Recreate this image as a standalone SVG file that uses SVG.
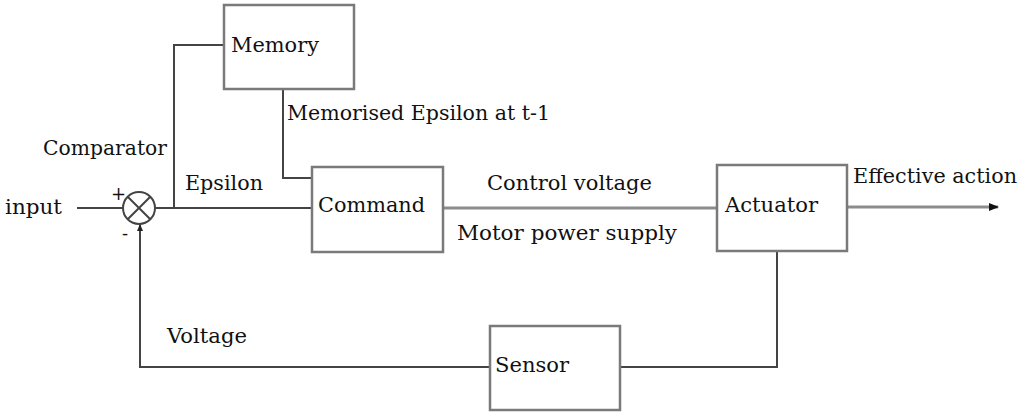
<svg xmlns="http://www.w3.org/2000/svg" width="1018" height="412" viewBox="0 0 1018 412">
<style>
.box{fill:#fff;stroke:#7a7a7a;stroke-width:2.5}
.ln{fill:none;stroke:#444;stroke-width:2}
.thick{fill:none;stroke:#8c8c8c;stroke-width:3}
.t{font-family:'DejaVu Serif','Liberation Serif',serif;font-size:20px;fill:#111}
</style>
<defs>
<marker id="arr" markerWidth="10" markerHeight="10" refX="9" refY="5" orient="auto" markerUnits="userSpaceOnUse">
<path d="M0,1 L10,5 L0,9 Z" fill="#111"/>
</marker>
<marker id="arrs" markerWidth="8" markerHeight="8" refX="7" refY="4" orient="auto" markerUnits="userSpaceOnUse">
<path d="M0,1 L7,4 L0,7 Z" fill="#222"/>
</marker>
</defs>
<g id="connectors">
<path class="ln" d="M77 208 H123"/>
<path class="ln" d="M155 208 H312"/>
<path class="ln" d="M174 208 V45 H224"/>
<path class="ln" d="M283 89 V178 H312"/>
<path class="thick" d="M443 208 H717"/>
<path class="thick" d="M847 207 H998" marker-end="url(#arr)"/>
<path class="ln" d="M777 251 V367 H620"/>
<path class="ln" d="M490 367 H140 V224" marker-end="url(#arrs)"/>
</g>
<g id="comparator">
<circle cx="139" cy="208" r="16" fill="#fff" stroke="#444" stroke-width="2"/>
<path class="ln" d="M127.7 196.7 L150.3 219.3 M150.3 196.7 L127.7 219.3"/>
<text class="t" x="111" y="200" style="font-size:18px;fill:#111">+</text>
<text class="t" x="122" y="240" style="font-size:18px">-</text>
</g>
<g id="memory">
<rect class="box" x="224" y="5" width="130" height="84"/>
<text class="t" x="231" y="52" textLength="88" lengthAdjust="spacingAndGlyphs">Memory</text>
</g>
<g id="command">
<rect class="box" x="312" y="167" width="131" height="85"/>
<text class="t" x="318" y="212" textLength="107" lengthAdjust="spacingAndGlyphs">Command</text>
</g>
<g id="actuator">
<rect class="box" x="717" y="165" width="130" height="86"/>
<text class="t" x="725" y="212" textLength="93" lengthAdjust="spacingAndGlyphs">Actuator</text>
</g>
<g id="sensor">
<rect class="box" x="490" y="326" width="130" height="84"/>
<text class="t" x="495" y="372" textLength="74" lengthAdjust="spacingAndGlyphs">Sensor</text>
</g>
<g id="labels">
<text class="t" x="5" y="214" textLength="57" lengthAdjust="spacingAndGlyphs">input</text>
<text class="t" x="43" y="155" textLength="124" lengthAdjust="spacingAndGlyphs">Comparator</text>
<text class="t" x="185" y="190" textLength="78" lengthAdjust="spacingAndGlyphs">Epsilon</text>
<text class="t" x="287" y="120" textLength="263" lengthAdjust="spacingAndGlyphs">Memorised Epsilon at t-1</text>
<text class="t" x="487" y="190" textLength="165" lengthAdjust="spacingAndGlyphs">Control voltage</text>
<text class="t" x="457" y="240" textLength="220" lengthAdjust="spacingAndGlyphs">Motor power supply</text>
<text class="t" x="853" y="183" textLength="164" lengthAdjust="spacingAndGlyphs">Effective action</text>
<text class="t" x="167" y="343" textLength="80" lengthAdjust="spacingAndGlyphs">Voltage</text>
</g>
</svg>
